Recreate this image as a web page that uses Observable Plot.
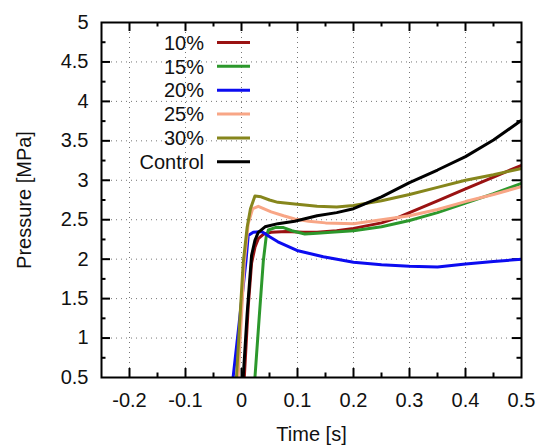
<!DOCTYPE html>
<html><head><meta charset="utf-8">
<script src="https://cdn.jsdelivr.net/npm/d3@7"></script>
<script src="https://cdn.jsdelivr.net/npm/@observablehq/plot@0.6"></script>
<style>
html,body{margin:0;padding:0;background:#fff}
#chart{position:relative;width:539px;height:447px}
</style>
</head><body><div id="chart"></div>
<script>
// Series names and colours (legend order = drawing order)
const seriesNames = ["10%", "15%", "20%", "25%", "30%", "Control"];
const seriesColors = ["#9a1212", "#2c982c", "#0c0cf0", "#f8a686", "#86861c", "#000000"];

// 10 %
const t10 = [0.005, 0.012, 0.018, 0.024, 0.03, 0.04, 0.053, 0.08, 0.11, 0.135, 0.17, 0.2, 0.25, 0.28, 0.3, 0.35, 0.4, 0.45, 0.5];
const p10 = [0.5, 1.4, 1.95, 2.15, 2.26, 2.32, 2.34, 2.35, 2.34, 2.34, 2.36, 2.39, 2.46, 2.53, 2.59, 2.74, 2.89, 3.04, 3.19];
// 15 %
const t15 = [0.024, 0.032, 0.039, 0.044, 0.048, 0.06, 0.075, 0.09, 0.113, 0.135, 0.16, 0.2, 0.25, 0.3, 0.35, 0.4, 0.45, 0.5];
const p15 = [0.5, 1.3, 1.98, 2.28, 2.37, 2.40, 2.40, 2.36, 2.32, 2.33, 2.34, 2.36, 2.41, 2.49, 2.59, 2.71, 2.83, 2.96];
// 20 %
const t20 = [-0.015, -0.004, 0.008, 0.012, 0.021, 0.036, 0.051, 0.065, 0.099, 0.146, 0.2, 0.25, 0.3, 0.35, 0.4, 0.45, 0.5];
const p20 = [0.5, 1.2, 1.98, 2.30, 2.34, 2.35, 2.28, 2.22, 2.11, 2.03, 1.96, 1.93, 1.91, 1.90, 1.94, 1.97, 2.00];
// 25 %
const t25 = [-0.006, 0.005, 0.012, 0.02, 0.03, 0.053, 0.075, 0.095, 0.12, 0.15, 0.2, 0.25, 0.3, 0.35, 0.4, 0.45, 0.5];
const p25 = [0.5, 1.95, 2.45, 2.64, 2.67, 2.60, 2.55, 2.51, 2.48, 2.46, 2.45, 2.50, 2.55, 2.63, 2.73, 2.82, 2.92];
// 30 %
const t30 = [-0.009, 0.003, 0.01, 0.016, 0.024, 0.035, 0.05, 0.065, 0.095, 0.135, 0.17, 0.2, 0.25, 0.3, 0.35, 0.4, 0.45, 0.5];
const p30 = [0.5, 1.95, 2.4, 2.64, 2.80, 2.79, 2.75, 2.72, 2.70, 2.67, 2.66, 2.68, 2.74, 2.82, 2.91, 3.0, 3.07, 3.15];
// Control
const tCtl = [0.003, 0.01, 0.018, 0.024, 0.03, 0.042, 0.065, 0.095, 0.135, 0.17, 0.2, 0.25, 0.3, 0.35, 0.4, 0.45, 0.5];
const pCtl = [0.5, 1.3, 2.05, 2.24, 2.34, 2.41, 2.45, 2.48, 2.55, 2.59, 2.64, 2.79, 2.97, 3.13, 3.30, 3.51, 3.76];

const seriesT = [t10, t15, t20, t25, t30, tCtl];
const seriesP = [p10, p15, p20, p25, p30, pCtl];

// Axis ticks
const xTickLabels = [-0.2, -0.1, 0, 0.1, 0.2, 0.3, 0.4, 0.5];
const xMajor = [-0.2, -0.1, 0, 0.1, 0.2, 0.3, 0.4];
const xMinor = [-0.15, -0.05, 0.05, 0.15, 0.25, 0.35, 0.45];
const yTickLabels = [0.5, 1, 1.5, 2, 2.5, 3, 3.5, 4, 4.5, 5];
const yMajor = [1, 1.5, 2, 2.5, 3, 3.5, 4, 4.5];
const yMinor = [0.75, 1.25, 1.75, 2.25, 2.75, 3.25, 3.75, 4.25, 4.75];

const W = 539, H = 447, mL = 101, mR = 18, mT = 22, mB = 70;
const innerW = W - mL - mR, innerH = H - mT - mB;
const majorLen = 9, minorLen = 4.5;

const table = seriesNames.map((name, i) =>
  seriesT[i].map((t, j) => ({series: name, t, p: seriesP[i][j]})));

const tickStyle = {stroke: "#000", strokeWidth: 2};
const marks = [
  Plot.gridX(xMajor, {stroke: "#777", strokeOpacity: 1, strokeDasharray: "1,4"}),
  Plot.gridY(yMajor, {stroke: "#777", strokeOpacity: 1, strokeDasharray: "1,4"}),
  // inward ticks on all four sides
  Plot.tickX(xMajor, {x: d => d, insetTop: innerH - majorLen, ...tickStyle}),
  Plot.tickX(xMajor, {x: d => d, insetBottom: innerH - majorLen, ...tickStyle}),
  Plot.tickX(xMinor, {x: d => d, insetTop: innerH - minorLen, ...tickStyle}),
  Plot.tickX(xMinor, {x: d => d, insetBottom: innerH - minorLen, ...tickStyle}),
  Plot.tickY(yMajor, {y: d => d, insetRight: innerW - majorLen, ...tickStyle}),
  Plot.tickY(yMajor, {y: d => d, insetLeft: innerW - majorLen, ...tickStyle}),
  Plot.tickY(yMinor, {y: d => d, insetRight: innerW - minorLen, ...tickStyle}),
  Plot.tickY(yMinor, {y: d => d, insetLeft: innerW - minorLen, ...tickStyle}),
  ...table.map((rows, i) => Plot.line(rows, {x: "t", y: "p", stroke: seriesColors[i], strokeWidth: 3, strokeLinejoin: "round", strokeLinecap: "butt"})),
  Plot.frame({stroke: "#000", strokeWidth: 2}),
  Plot.axisX(xTickLabels, {tickSize: 0, tickPadding: 15, tickFormat: d => String(d), label: null, fontSize: 20}),
  Plot.axisY(yTickLabels, {tickSize: 0, tickPadding: 13, tickFormat: d => String(d), label: null, fontSize: 20}),
  Plot.text(["Time [s]"], {frameAnchor: "bottom", dy: 57, lineAnchor: "middle", textAnchor: "middle", fontSize: 20, fill: "#111"}),
  Plot.text(["Pressure [MPa]"], {frameAnchor: "left", dx: -77, rotate: -90, textAnchor: "middle", lineAnchor: "middle", fontSize: 20, fill: "#111"})
];

const svg = Plot.plot({
  width: W, height: H,
  marginLeft: mL, marginRight: mR, marginTop: mT, marginBottom: mB,
  x: {domain: [-0.25, 0.5]},
  y: {domain: [0.5, 5]},
  style: {fontFamily: "'Liberation Sans', Arial, sans-serif", fontSize: "20px", background: "#fff", color: "#111"},
  marks
});

// in-plot legend (top-left)
const leg = d3.select(svg).append("g")
  .attr("font-family", "'Liberation Sans', Arial, sans-serif")
  .attr("font-size", 20).attr("fill", "#111");
seriesNames.forEach((name, i) => {
  const y = 42.5 + i * 23.85;
  leg.append("text").attr("x", 204).attr("y", y).attr("dy", "0.36em")
    .attr("text-anchor", "end").text(name);
  leg.append("line").attr("x1", 217).attr("x2", 250).attr("y1", y).attr("y2", y)
    .attr("stroke", seriesColors[i]).attr("stroke-width", 3);
});

document.getElementById("chart").appendChild(svg);
</script>
</body></html>
